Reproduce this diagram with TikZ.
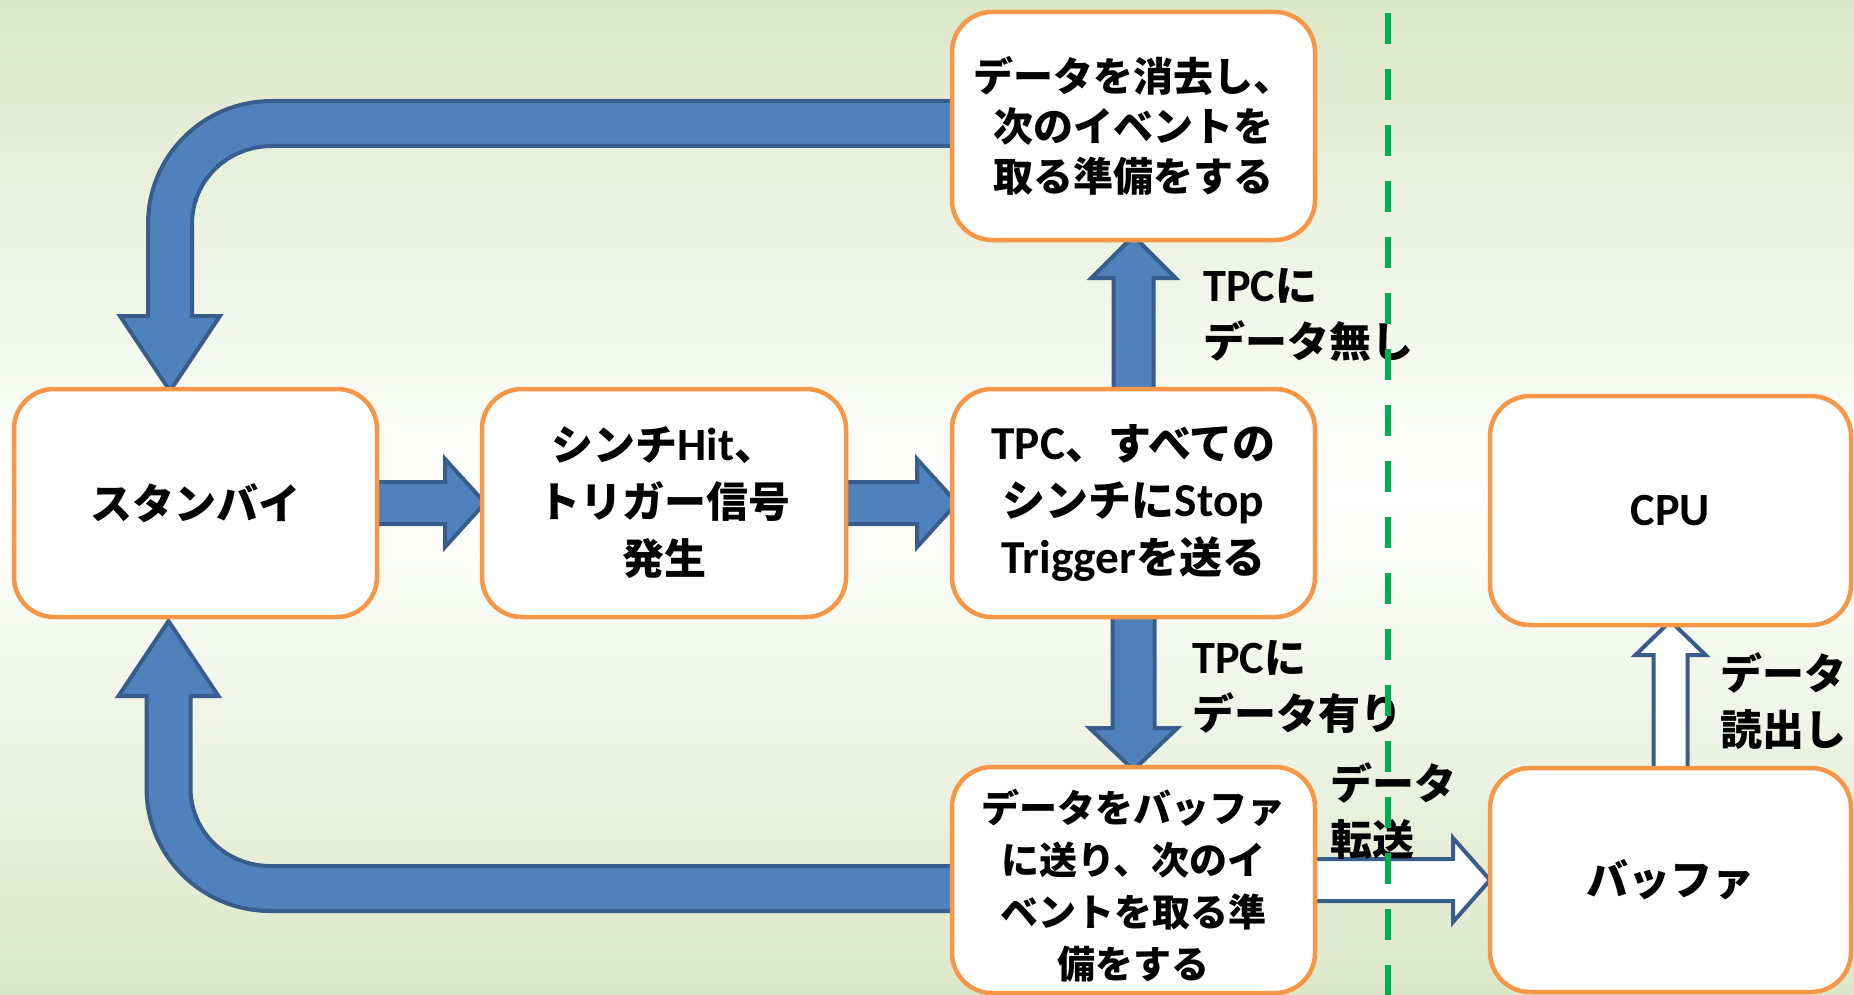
\documentclass[tikz,border=0pt]{standalone}
\usepackage{fontspec}
\setmainfont{Noto Sans CJK JP}
\newfontfamily\lat[Scale=1.1]{Carlito}
\usetikzlibrary{calc}
\definecolor{bggreen}{HTML}{DCE7C8}
\definecolor{boxorange}{HTML}{F79646}
\definecolor{arrowfill}{HTML}{4F81BD}
\definecolor{arrowline}{HTML}{385D8A}
\definecolor{dashgreen}{HTML}{00B050}
\newcommand\lt[1]{{\lat\bfseries #1}}
\newcommand\fs[2]{\fontsize{#1}{#2}\selectfont}
\pgfdeclarelayer{back}
\pgfdeclarelayer{arrows}
\pgfdeclarelayer{front}
\pgfsetlayers{back,arrows,main,front}
\newcommand\loopshape[1]{%
  \draw[blk] (#1 |- 0,290) -- (102,290) .. controls (33,290) and (-22,235) .. (-22,167)
    -- (-22,75) -- (-50,75) -- (0,0) -- (50,75) -- (22,75) -- (22,167)
    .. controls (22,210) and (57,245) .. (102,245) -- (#1 |- 0,245) -- cycle;}
\tikzset{
  box/.style={draw=boxorange, line width=4.5pt, fill=white, rounded corners=40pt,
    minimum width=363pt, minimum height=228pt, outer sep=0pt, inner sep=0pt, align=center},
  blk/.style={draw=arrowline, line width=4pt, fill=arrowfill, line join=miter},
  hollow/.style={draw=arrowline, line width=4pt, fill=white, line join=miter},
  lbl/.style={anchor=west, align=left, inner sep=0pt, font=\bfseries\fs{42}{56}},
}
\begin{document}
\begin{tikzpicture}[x=1pt,y=-1pt]
\useasboundingbox (0,0) rectangle (1854,995);
\begin{pgfonlayer}{back}
\fill[top color=bggreen, bottom color=bggreen, middle color=white] (0,0) rectangle (1854,995);
\end{pgfonlayer}

% boxes
\node[box, font=\bfseries\fs{42}{57}] (standby) at (195.5,503) {スタンバイ};
\node[box, minimum width=364pt, font=\bfseries\fs{42}{57}] (hit) at (664,503) {シンチ\lt{Hit}、\\トリガー信号\\発生};
\node[box, font=\bfseries\fs{43}{57}] (tpc) at (1133.5,503) {\lt{TPC}、すべての\\シンチに\lt{Stop}\\\lt{Trigger}を送る};
\node[box, font=\bfseries\fs{40}{50}] (clear) at (1133.5,126) {データを消去し、\\次のイベントを\\取る準備をする};
\node[box, minimum height=226pt, font=\bfseries\fs{38}{52}] (send) at (1133.5,880) {\rule{0pt}{44pt}データをバッファ\\に送り、次のイ\\ベントを取る準\\備をする};
\node[box, minimum width=361pt, minimum height=229pt, font=\bfseries\fs{42}{57}] (cpu) at (1670.5,510.5) {\lt{CPU}};
\node[box, minimum width=361pt, minimum height=224pt, font=\bfseries\fs{42}{57}] (buf) at (1670.5,880) {バッファ};

% labels
\node[lbl] (l1) at (1203,315) {\lt{TPC}に\\データ無し};
\node[lbl] (l2) at (1192,686.5) {\lt{TPC}に\\データ有り};
\node[lbl] (l3) at (1330,811) {データ\\転送};
\node[lbl] (l4) at (1720,701) {データ\\読出し};

\begin{pgfonlayer}{arrows}
\coordinate (cw) at ($(clear.west)+(10,0)$);
\coordinate (sw) at ($(send.west)+(10,0)$);
% loop from top box back to standby
\begin{scope}[shift={($(standby.north)+(-25.5,2)$)}, yscale=-1]
  \loopshape{cw}
\end{scope}
% loop from bottom box back to standby
\begin{scope}[shift={($(standby.south)+(-27,4)$)}]
  \loopshape{sw}
\end{scope}
% standby -> hit
\begin{scope}[shift={($(hit.west)+(3,0)$)}]
  \draw[blk] (standby.east |- 0,-21) -- (-40,-21) -- (-40,-44) -- (0,0) -- (-40,44) -- (-40,21) -- (standby.east |- 0,21) -- cycle;
\end{scope}
% hit -> tpc
\begin{scope}[shift={($(tpc.west)+(5,0)$)}]
  \draw[blk] (hit.east |- 0,-21) -- (-40,-21) -- (-40,-44) -- (0,0) -- (-40,44) -- (-40,21) -- (hit.east |- 0,21) -- cycle;
\end{scope}
% tpc -> clear (up)
\begin{scope}[shift={($(clear.south)+(0,-4)$)}]
  \draw[blk] (tpc.north -| -20,0) -- (-20,42) -- (-42,42) -- (0,0) -- (42,42) -- (20,42) -- (tpc.north -| 20,0) -- cycle;
\end{scope}
% tpc -> send (down)
\begin{scope}[shift={($(send.north)+(0,3)$)}]
  \draw[blk] (tpc.south -| -21,0) -- (-21,-42) -- (-44,-42) -- (0,0) -- (44,-42) -- (21,-42) -- (tpc.south -| 21,0) -- cycle;
\end{scope}
% send -> buf (hollow)
\begin{scope}[shift={(buf.west)}]
  \draw[hollow] (send.east |- 0,-21) -- (-37,-21) -- (-37,-42) -- (0,0) -- (-37,42) -- (-37,21) -- (send.east |- 0,21) -- cycle;
\end{scope}
% buf -> cpu (hollow, up)
\begin{scope}[shift={($(cpu.south)+(0,-4)$)}]
  \draw[hollow] (buf.north -| -17,0) -- (-17,34) -- (-35,34) -- (0,0) -- (35,34) -- (17,34) -- (buf.north -| 17,0) -- cycle;
\end{scope}
\end{pgfonlayer}

\begin{pgfonlayer}{front}
\draw[dashgreen, line width=6pt, dash pattern=on 31pt off 25pt] (1388,13) -- (1388,1000);
\end{pgfonlayer}
\end{tikzpicture}
\end{document}
